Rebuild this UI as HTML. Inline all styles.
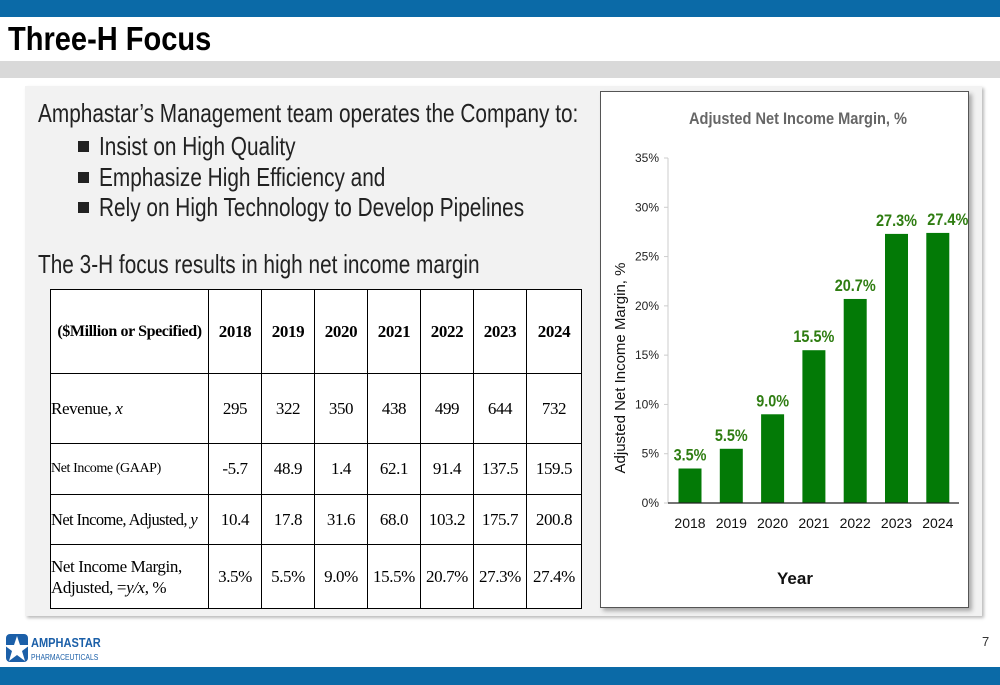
<!DOCTYPE html>
<html><head><meta charset="utf-8"><style>
body{margin:0;width:1000px;height:685px;position:relative;overflow:hidden;background:#fff;font-family:"Liberation Sans",sans-serif}
.abs{position:absolute}
table{border-collapse:collapse;font-family:"Liberation Serif",serif;color:#000;table-layout:fixed}
td{border:1px solid #000;text-align:center;font-size:17px;padding:0;letter-spacing:-0.4px;overflow:visible;white-space:nowrap}
.ln{position:absolute;white-space:nowrap;transform:scaleX(0.8);transform-origin:left;color:#222}
.bl{position:absolute;left:78px;width:11px;height:11px;background:#222}
</style></head><body>
<div class="abs" style="left:0;top:0;width:1000px;height:17px;background:#0b6aa7"></div>
<div class="abs" style="left:8px;top:20px;font-size:33px;font-weight:bold;color:#000;transform:scaleX(0.88);transform-origin:left">Three-H Focus</div>
<div class="abs" style="left:0;top:61px;width:1000px;height:17px;background:#d9d9d9"></div>
<div class="abs" style="left:25px;top:86px;width:957px;height:530px;background:#f2f2f2;box-shadow:2px 2px 3px #bbb"></div>
<div class="ln" style="left:38px;top:98px;font-size:26px">Amphastar’s Management team operates the Company to:</div>
<div class="bl" style="top:141px"></div>
<div class="ln" style="left:99px;top:131px;font-size:26px">Insist on High Quality</div>
<div class="bl" style="top:172px"></div>
<div class="ln" style="left:99px;top:162px;font-size:26px">Emphasize High Efficiency and</div>
<div class="bl" style="top:202px"></div>
<div class="ln" style="left:99px;top:192px;font-size:26px">Rely on High Technology to Develop Pipelines</div>
<div class="ln" style="left:38px;top:249px;font-size:26px">The 3-H focus results in high net income margin</div>
<table class="abs" style="left:50px;top:289px;width:531px;height:319px;background:#fff">
<colgroup><col style="width:158px"><col style="width:53px"><col style="width:53px"><col style="width:53px"><col style="width:53px"><col style="width:53px"><col style="width:53px"><col style="width:55px"></colgroup>
<tr style="height:84px"><td style="font-weight:bold;font-size:16px">($Million or Specified)</td><td style="font-weight:bold">2018</td><td style="font-weight:bold">2019</td><td style="font-weight:bold">2020</td><td style="font-weight:bold">2021</td><td style="font-weight:bold">2022</td><td style="font-weight:bold">2023</td><td style="font-weight:bold">2024</td></tr>
<tr style="height:70px"><td style="text-align:left">Revenue, <i>x</i></td><td>295</td><td>322</td><td>350</td><td>438</td><td>499</td><td>644</td><td>732</td></tr>
<tr style="height:51px"><td style="text-align:left;font-size:14px">Net Income (GAAP)</td><td>-5.7</td><td>48.9</td><td>1.4</td><td>62.1</td><td>91.4</td><td>137.5</td><td>159.5</td></tr>
<tr style="height:50px"><td style="text-align:left;font-size:16.5px;letter-spacing:-0.6px">Net Income, Adjusted, <i>y</i></td><td>10.4</td><td>17.8</td><td>31.6</td><td>68.0</td><td>103.2</td><td>175.7</td><td>200.8</td></tr>
<tr style="height:64px"><td style="text-align:left;line-height:21px;white-space:normal">Net Income Margin, Adjusted, =<i>y/x</i>, %</td><td>3.5%</td><td>5.5%</td><td>9.0%</td><td>15.5%</td><td>20.7%</td><td>27.3%</td><td>27.4%</td></tr>
</table>
<div class="abs" style="left:600px;top:91px;width:369px;height:517px;background:#fff;border:1px solid #555;box-sizing:border-box;box-shadow:3px 3px 4px #aaa"></div>
<svg class="abs" style="left:0;top:0" width="1000" height="685" id="chart"></svg>
<div class="abs" style="left:982px;top:634px;font-size:13px;color:#333">7</div>
<svg class="abs" style="left:4px;top:632px" width="30" height="32"><rect x="2" y="2" width="22" height="28" rx="4" fill="#1b5fa8"/><polygon points="13,4 16,13 26,13 18,19 21,29 13,23 5,29 8,19 0,13 10,13" fill="#fff"/></svg>
<div class="abs" style="left:31px;top:636px;font-size:13px;font-weight:bold;color:#1b5fa8;line-height:13px;transform:scaleX(0.85);transform-origin:left">AMPHASTAR<br><span style="font-size:8px;font-weight:normal">PHARMACEUTICALS</span></div>
<div class="abs" style="left:0;top:667px;width:1000px;height:18px;background:#0b6aa7"></div>
<script>
const years=["2018","2019","2020","2021","2022","2023","2024"];
const margins=[3.5,5.5,9.0,15.5,20.7,27.3,27.4];
const yTicks=[0,5,10,15,20,25,30,35];
const svg=document.getElementById('chart');
const NS="http://www.w3.org/2000/svg";
const y=v=>503-v*(345/35);
const x=i=>690+i*41.3;
function mk(t,a,txt){const e=document.createElementNS(NS,t);for(const k in a)e.setAttribute(k,a[k]);if(txt!==undefined)e.textContent=txt;svg.appendChild(e);return e;}
const F='Liberation Sans';
let e=mk('text',{x:798,y:124,'text-anchor':'middle','font-size':16.5,'font-weight':'bold',fill:'#666','font-family':F,textLength:218,lengthAdjust:'spacingAndGlyphs'},'Adjusted Net Income Margin, %');


e=mk('line',{x1:668,y1:158,x2:668,y2:503,stroke:'#ccc'});


yTicks.forEach(t=>{
 let l=mk('line',{x1:664,x2:668,y1:y(t),y2:y(t),stroke:'#ccc'});
 
 
 let tx=mk('text',{x:659,y:y(t)+4,'text-anchor':'end','font-size':12,fill:'#222','font-family':F},t+'%');
 
 
});
years.forEach((yr,i)=>{
 let b=mk('rect',{x:x(i)-11.5,y:y(margins[i]),width:23,height:503-y(margins[i]),fill:'#037a06'});
 
 
 const s=margins[i].toFixed(1)+'%';
 let v=mk('text',{x:x(i)+(i==6?10:0),y:y(margins[i])-8,'text-anchor':'middle','font-size':17,'font-weight':'bold',fill:'#2f7d12','font-family':F,textLength:s.length*8.2,lengthAdjust:'spacingAndGlyphs'},s);
 
 
 let l=mk('text',{x:x(i),y:528,'text-anchor':'middle','font-size':14,fill:'#111','font-family':F},yr);
 
 
});
e=mk('line',{x1:668,y1:503,x2:959,y2:503,stroke:'#222','stroke-width':1.2});


e=mk('text',{x:795,y:584,'text-anchor':'middle','font-size':17,'font-weight':'bold',fill:'#111','font-family':F},'Year');


e=mk('text',{x:0,y:0,'text-anchor':'middle','font-size':15,fill:'#111','font-family':F,transform:'translate(625,368) rotate(-90)'},'Adjusted Net Income Margin, %');


</script>
</body></html>
